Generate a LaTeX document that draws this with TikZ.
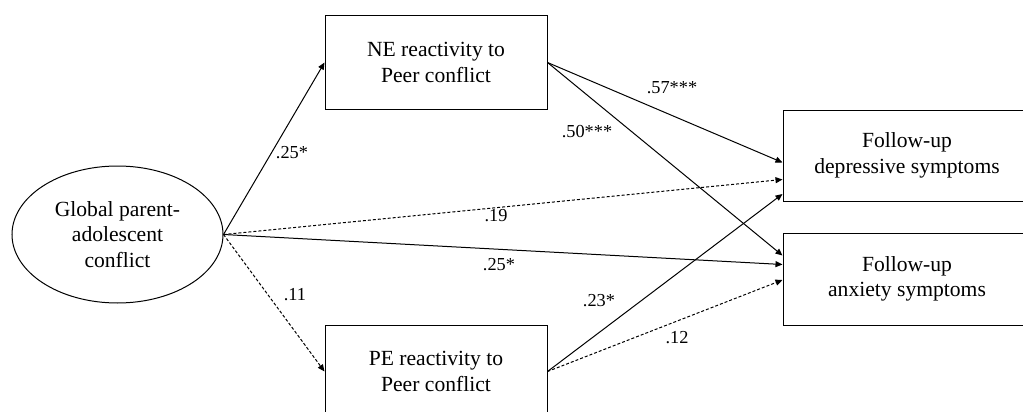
\documentclass[tikz,border=0pt]{standalone}
\usepackage{fontspec}
\setmainfont{Liberation Serif}
\usetikzlibrary{shapes.geometric,arrows.meta}

\begin{document}
\begin{tikzpicture}[x=1pt, y=-1pt,
  box/.style={draw, line width=1pt, align=center, inner sep=0pt,
    font=\fontsize{21.6}{25.5}\selectfont},
  oval/.style={box, ellipse},
  path/.style={line width=1pt, -{Triangle[length=7pt,width=6pt]}},
  dotpath/.style={path, dash pattern=on 3pt off 2pt},
  coef/.style={font=\fontsize{18.3}{22}\selectfont, inner sep=0pt}]

\useasboundingbox (0,0) rectangle (1023,412);

% Variables
\node[oval, minimum width=211pt, minimum height=137pt] (conflict) at (117.5,234.5)
  {Global parent-\\adolescent\\conflict};
\node[box, minimum width=222pt, minimum height=93pt] (ne) at (436,62.5)
  {NE reactivity to\\Peer conflict};
\node[box, minimum width=222pt, minimum height=93pt] (pe) at (436,371.5)
  {PE reactivity to\\Peer conflict};
\node[box, minimum width=248pt, minimum height=91pt] (dep) at (907,155.5)
  {Follow-up\\depressive symptoms};
\node[box, minimum width=248pt, minimum height=92pt] (anx) at (907,279)
  {Follow-up\\anxiety symptoms};

% Paths from conflict
\draw[path] (conflict.east) -- (ne.west);
\draw[dotpath] (conflict.east) -- (pe.west);
\draw[dotpath] (conflict.east) -- ([yshift=-24pt]dep.west);
\draw[path] (conflict.east) -- ([yshift=14.5pt]anx.west);

% Paths from reactivity
\draw[path] (ne.east) -- ([yshift=-7pt]dep.west);
\draw[path] (ne.east) -- ([yshift=23.5pt]anx.west);
\draw[path] (pe.east) -- ([yshift=-38.5pt]dep.west);
\draw[dotpath] (pe.east) -- ([yshift=-1pt]anx.west);

% Coefficients
\node[coef] (c1) at (292,153) {.25*};
\node[coef] (c2) at (295,295) {.11};
\node[coef] (c3) at (496,216) {.19};
\node[coef] (c4) at (499,265) {.25*};
\node[coef] (c5) at (672,88) {.57***};
\node[coef] (c6) at (587,132) {.50***};
\node[coef] (c7) at (599,301) {.23*};
\node[coef] (c8) at (677,338) {.12};

\end{tikzpicture}
\end{document}
